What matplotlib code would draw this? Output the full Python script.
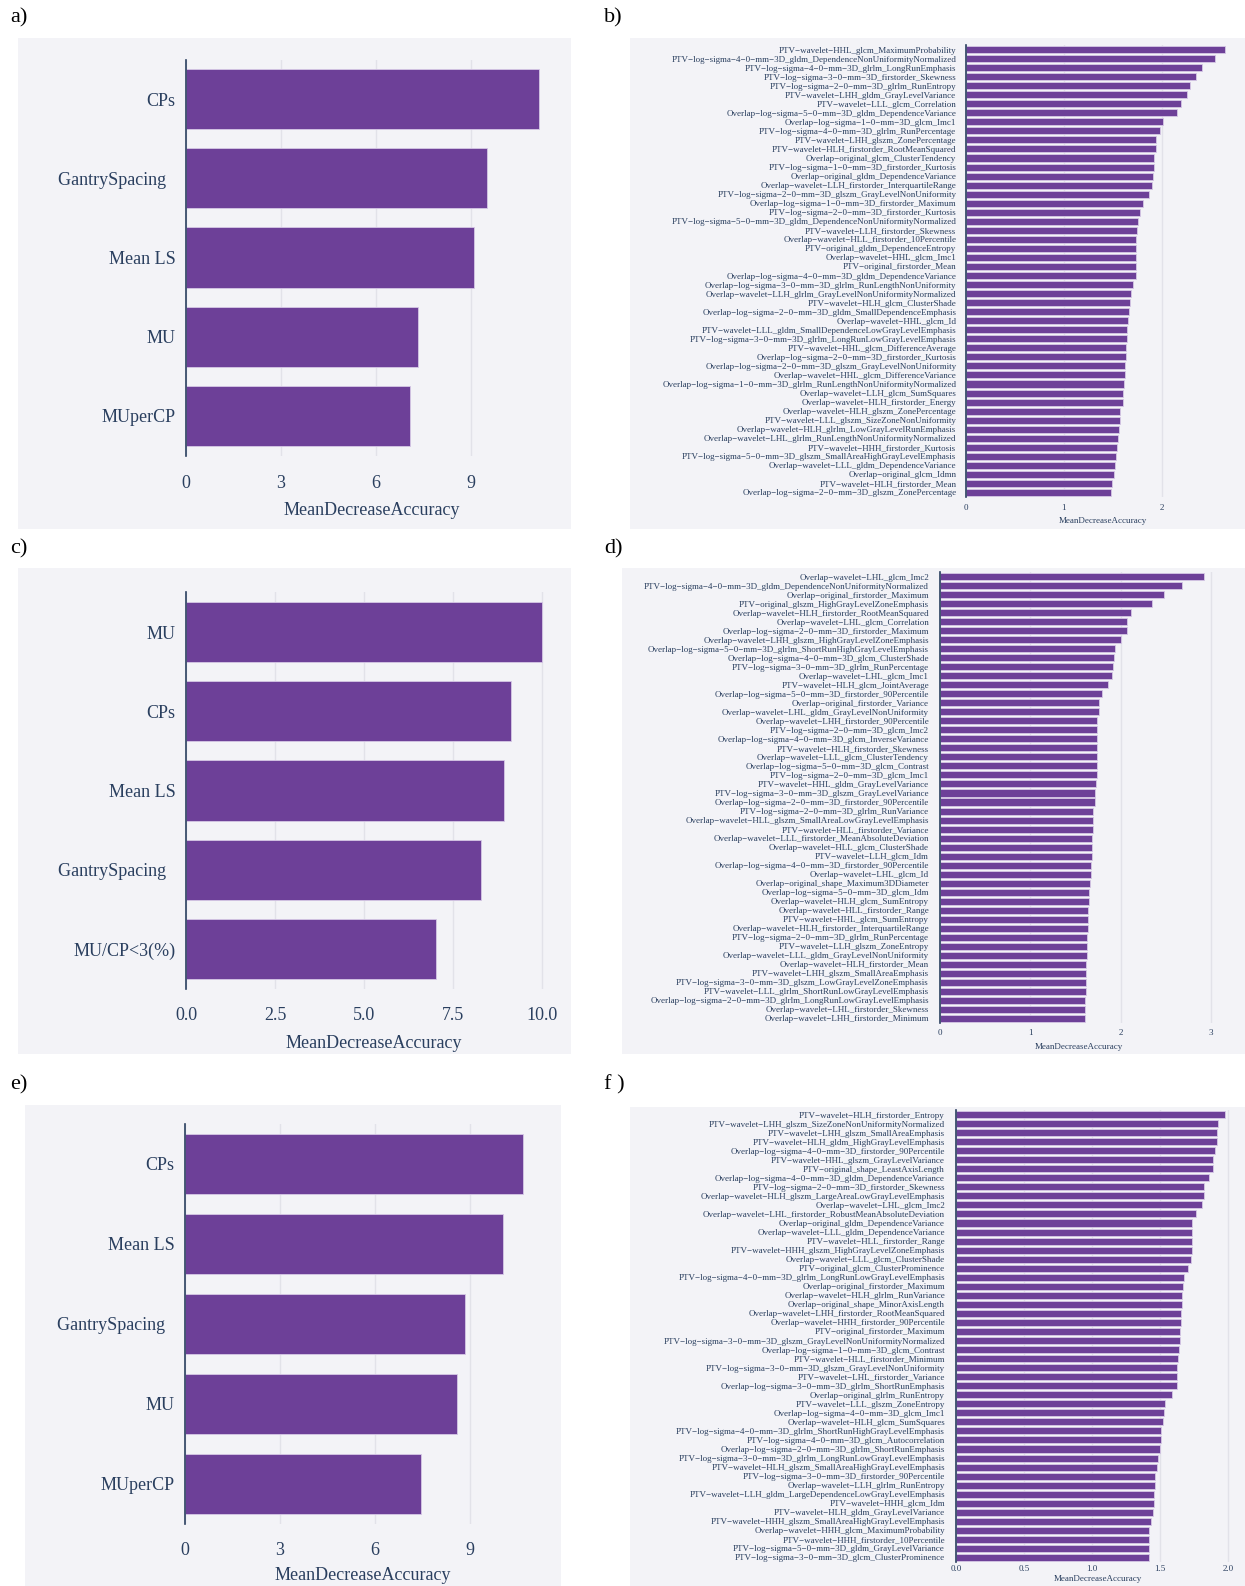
import matplotlib
matplotlib.use('Agg')
import matplotlib.pyplot as plt
from matplotlib.patches import Rectangle

# ---------------- data ----------------
a_labels = ["CPs", "GantrySpacing  ", "Mean LS", "MU", "MUperCP"]
a_values = [11.17, 9.52, 9.11, 7.33, 7.08]

c_labels = ["MU", "CPs", "Mean LS", "GantrySpacing  ", "MU/CP<3(%)"]
c_values = [10.0, 9.12, 8.93, 8.27, 7.02]

e_labels = ["CPs", "Mean LS", "GantrySpacing  ", "MU", "MUperCP"]
e_values = [10.68, 10.04, 8.85, 8.58, 7.46]

b_labels = [
    "PTV−wavelet−HHL_glcm_MaximumProbability",
    "PTV−log−sigma−4−0−mm−3D_gldm_DependenceNonUniformityNormalized",
    "PTV−log−sigma−4−0−mm−3D_glrlm_LongRunEmphasis",
    "PTV−log−sigma−3−0−mm−3D_firstorder_Skewness",
    "PTV−log−sigma−2−0−mm−3D_glrlm_RunEntropy",
    "PTV−wavelet−LHH_gldm_GrayLevelVariance",
    "PTV−wavelet−LLL_glcm_Correlation",
    "Overlap−log−sigma−5−0−mm−3D_gldm_DependenceVariance",
    "Overlap−log−sigma−1−0−mm−3D_glcm_Imc1",
    "PTV−log−sigma−4−0−mm−3D_glrlm_RunPercentage",
    "PTV−wavelet−LHH_glszm_ZonePercentage",
    "PTV−wavelet−HLH_firstorder_RootMeanSquared",
    "Overlap−original_glcm_ClusterTendency",
    "PTV−log−sigma−1−0−mm−3D_firstorder_Kurtosis",
    "Overlap−original_gldm_DependenceVariance",
    "Overlap−wavelet−LLH_firstorder_InterquartileRange",
    "PTV−log−sigma−2−0−mm−3D_glszm_GrayLevelNonUniformity",
    "Overlap−log−sigma−1−0−mm−3D_firstorder_Maximum",
    "PTV−log−sigma−2−0−mm−3D_firstorder_Kurtosis",
    "PTV−log−sigma−5−0−mm−3D_gldm_DependenceNonUniformityNormalized",
    "PTV−wavelet−LLH_firstorder_Skewness",
    "Overlap−wavelet−HLL_firstorder_10Percentile",
    "PTV−original_gldm_DependenceEntropy",
    "Overlap−wavelet−HHL_glcm_Imc1",
    "PTV−original_firstorder_Mean",
    "Overlap−log−sigma−4−0−mm−3D_gldm_DependenceVariance",
    "Overlap−log−sigma−3−0−mm−3D_glrlm_RunLengthNonUniformity",
    "Overlap−wavelet−LLH_glrlm_GrayLevelNonUniformityNormalized",
    "PTV−wavelet−HLH_glcm_ClusterShade",
    "Overlap−log−sigma−2−0−mm−3D_gldm_SmallDependenceEmphasis",
    "Overlap−wavelet−HHL_glcm_Id",
    "PTV−wavelet−LLL_gldm_SmallDependenceLowGrayLevelEmphasis",
    "PTV−log−sigma−3−0−mm−3D_glrlm_LongRunLowGrayLevelEmphasis",
    "PTV−wavelet−HHL_glcm_DifferenceAverage",
    "Overlap−log−sigma−2−0−mm−3D_firstorder_Kurtosis",
    "Overlap−log−sigma−2−0−mm−3D_glszm_GrayLevelNonUniformity",
    "Overlap−wavelet−HHL_glcm_DifferenceVariance",
    "Overlap−log−sigma−1−0−mm−3D_glrlm_RunLengthNonUniformityNormalized",
    "Overlap−wavelet−LLH_glcm_SumSquares",
    "Overlap−wavelet−HLH_firstorder_Energy",
    "Overlap−wavelet−HLH_glszm_ZonePercentage",
    "PTV−wavelet−LLL_glszm_SizeZoneNonUniformity",
    "Overlap−wavelet−HLH_glrlm_LowGrayLevelRunEmphasis",
    "Overlap−wavelet−LHL_glrlm_RunLengthNonUniformityNormalized",
    "PTV−wavelet−HHH_firstorder_Kurtosis",
    "PTV−log−sigma−5−0−mm−3D_glszm_SmallAreaHighGrayLevelEmphasis",
    "Overlap−wavelet−LLL_gldm_DependenceVariance",
    "Overlap−original_glcm_Idmn",
    "PTV−wavelet−HLH_firstorder_Mean",
    "Overlap−log−sigma−2−0−mm−3D_glszm_ZonePercentage",
]
b_values = [2.648, 2.54, 2.41, 2.344, 2.284, 2.252, 2.20, 2.152, 2.008, 1.98,
            1.94, 1.94, 1.924, 1.916, 1.908, 1.896, 1.872, 1.808, 1.772, 1.76,
            1.744, 1.74, 1.74, 1.74, 1.74, 1.736, 1.708, 1.68, 1.672, 1.66,
            1.656, 1.648, 1.644, 1.636, 1.632, 1.628, 1.624, 1.612, 1.608, 1.604,
            1.572, 1.568, 1.564, 1.556, 1.544, 1.532, 1.52, 1.516, 1.492, 1.48]

d_labels = [
    "Overlap−wavelet−LHL_glcm_Imc2",
    "PTV−log−sigma−4−0−mm−3D_gldm_DependenceNonUniformityNormalized",
    "Overlap−original_firstorder_Maximum",
    "PTV−original_glszm_HighGrayLevelZoneEmphasis",
    "Overlap−wavelet−HLH_firstorder_RootMeanSquared",
    "Overlap−wavelet−LHL_glcm_Correlation",
    "Overlap−log−sigma−2−0−mm−3D_firstorder_Maximum",
    "Overlap−wavelet−LHH_glszm_HighGrayLevelZoneEmphasis",
    "Overlap−log−sigma−5−0−mm−3D_glrlm_ShortRunHighGrayLevelEmphasis",
    "Overlap−log−sigma−4−0−mm−3D_glcm_ClusterShade",
    "PTV−log−sigma−3−0−mm−3D_glrlm_RunPercentage",
    "Overlap−wavelet−LHL_glcm_Imc1",
    "PTV−wavelet−HLH_glcm_JointAverage",
    "Overlap−log−sigma−5−0−mm−3D_firstorder_90Percentile",
    "Overlap−original_firstorder_Variance",
    "Overlap−wavelet−LHL_gldm_GrayLevelNonUniformity",
    "Overlap−wavelet−LHH_firstorder_90Percentile",
    "PTV−log−sigma−2−0−mm−3D_glcm_Imc2",
    "Overlap−log−sigma−4−0−mm−3D_glcm_InverseVariance",
    "PTV−wavelet−HLH_firstorder_Skewness",
    "Overlap−wavelet−LLL_glcm_ClusterTendency",
    "Overlap−log−sigma−5−0−mm−3D_glcm_Contrast",
    "PTV−log−sigma−2−0−mm−3D_glcm_Imc1",
    "PTV−wavelet−HHL_gldm_GrayLevelVariance",
    "PTV−log−sigma−3−0−mm−3D_glszm_GrayLevelVariance",
    "Overlap−log−sigma−2−0−mm−3D_firstorder_90Percentile",
    "PTV−log−sigma−2−0−mm−3D_glrlm_RunVariance",
    "Overlap−wavelet−HLL_glszm_SmallAreaLowGrayLevelEmphasis",
    "PTV−wavelet−HLL_firstorder_Variance",
    "Overlap−wavelet−LLL_firstorder_MeanAbsoluteDeviation",
    "Overlap−wavelet−HLL_glcm_ClusterShade",
    "PTV−wavelet−LLH_glcm_Idm",
    "Overlap−log−sigma−4−0−mm−3D_firstorder_90Percentile",
    "Overlap−wavelet−LHL_glcm_Id",
    "Overlap−original_shape_Maximum3DDiameter",
    "Overlap−log−sigma−5−0−mm−3D_glcm_Idm",
    "Overlap−wavelet−HLH_glcm_SumEntropy",
    "Overlap−wavelet−HLL_firstorder_Range",
    "PTV−wavelet−HHL_glcm_SumEntropy",
    "Overlap−wavelet−HLH_firstorder_InterquartileRange",
    "PTV−log−sigma−2−0−mm−3D_glrlm_RunPercentage",
    "PTV−wavelet−LLH_glszm_ZoneEntropy",
    "Overlap−wavelet−LLL_gldm_GrayLevelNonUniformity",
    "Overlap−wavelet−HLH_firstorder_Mean",
    "PTV−wavelet−LHH_glszm_SmallAreaEmphasis",
    "PTV−log−sigma−3−0−mm−3D_glszm_LowGrayLevelZoneEmphasis",
    "PTV−wavelet−LLL_glrlm_ShortRunLowGrayLevelEmphasis",
    "Overlap−log−sigma−2−0−mm−3D_glrlm_LongRunLowGrayLevelEmphasis",
    "Overlap−wavelet−LHL_firstorder_Skewness",
    "Overlap−wavelet−LHH_firstorder_Minimum",
]
d_values = [2.925, 2.681, 2.478, 2.35, 2.11, 2.066, 2.066, 2.0, 1.938, 1.929,
            1.912, 1.907, 1.858, 1.796, 1.761, 1.757, 1.739, 1.739, 1.739, 1.739,
            1.739, 1.735, 1.735, 1.73, 1.721, 1.712, 1.699, 1.69, 1.69, 1.686,
            1.681, 1.681, 1.677, 1.668, 1.659, 1.65, 1.646, 1.642, 1.642, 1.637,
            1.628, 1.624, 1.624, 1.62, 1.615, 1.615, 1.615, 1.606, 1.606, 1.602]

f_labels = [
    "PTV−wavelet−HLH_firstorder_Entropy",
    "PTV−wavelet−LHH_glszm_SizeZoneNonUniformityNormalized",
    "PTV−wavelet−LHH_glszm_SmallAreaEmphasis",
    "PTV−wavelet−HLH_gldm_HighGrayLevelEmphasis",
    "Overlap−log−sigma−4−0−mm−3D_firstorder_90Percentile",
    "PTV−wavelet−HHL_glszm_GrayLevelVariance",
    "PTV−original_shape_LeastAxisLength",
    "Overlap−log−sigma−4−0−mm−3D_gldm_DependenceVariance",
    "PTV−log−sigma−2−0−mm−3D_firstorder_Skewness",
    "Overlap−wavelet−HLH_glszm_LargeAreaLowGrayLevelEmphasis",
    "Overlap−wavelet−LHL_glcm_Imc2",
    "Overlap−wavelet−LHL_firstorder_RobustMeanAbsoluteDeviation",
    "Overlap−original_gldm_DependenceVariance",
    "Overlap−wavelet−LLL_gldm_DependenceVariance",
    "PTV−wavelet−HLL_firstorder_Range",
    "PTV−wavelet−HHH_glszm_HighGrayLevelZoneEmphasis",
    "Overlap−wavelet−LLL_glcm_ClusterShade",
    "PTV−original_glcm_ClusterProminence",
    "PTV−log−sigma−4−0−mm−3D_glrlm_LongRunLowGrayLevelEmphasis",
    "Overlap−original_firstorder_Maximum",
    "Overlap−wavelet−HLH_glrlm_RunVariance",
    "Overlap−original_shape_MinorAxisLength",
    "Overlap−wavelet−LHH_firstorder_RootMeanSquared",
    "Overlap−wavelet−HHH_firstorder_90Percentile",
    "PTV−original_firstorder_Maximum",
    "PTV−log−sigma−3−0−mm−3D_glszm_GrayLevelNonUniformityNormalized",
    "Overlap−log−sigma−1−0−mm−3D_glcm_Contrast",
    "PTV−wavelet−HLL_firstorder_Minimum",
    "PTV−log−sigma−3−0−mm−3D_glszm_GrayLevelNonUniformity",
    "PTV−wavelet−LHL_firstorder_Variance",
    "Overlap−log−sigma−3−0−mm−3D_glrlm_ShortRunEmphasis",
    "Overlap−original_glrlm_RunEntropy",
    "PTV−wavelet−LLL_glszm_ZoneEntropy",
    "Overlap−log−sigma−4−0−mm−3D_glcm_Imc1",
    "Overlap−wavelet−HLH_glcm_SumSquares",
    "PTV−log−sigma−4−0−mm−3D_glrlm_ShortRunHighGrayLevelEmphasis",
    "PTV−log−sigma−4−0−mm−3D_glcm_Autocorrelation",
    "Overlap−log−sigma−2−0−mm−3D_glrlm_ShortRunEmphasis",
    "PTV−log−sigma−3−0−mm−3D_glrlm_LongRunLowGrayLevelEmphasis",
    "PTV−wavelet−HLH_glszm_SmallAreaHighGrayLevelEmphasis",
    "PTV−log−sigma−3−0−mm−3D_firstorder_90Percentile",
    "Overlap−wavelet−LLH_glrlm_RunEntropy",
    "PTV−wavelet−LLH_gldm_LargeDependenceLowGrayLevelEmphasis",
    "PTV−wavelet−HHH_glcm_Idm",
    "PTV−wavelet−HLH_gldm_GrayLevelVariance",
    "PTV−wavelet−HHH_glszm_SmallAreaHighGrayLevelEmphasis",
    "Overlap−wavelet−HHH_glcm_MaximumProbability",
    "PTV−wavelet−HHH_firstorder_10Percentile",
    "PTV−log−sigma−5−0−mm−3D_gldm_GrayLevelVariance",
    "PTV−log−sigma−3−0−mm−3D_glcm_ClusterProminence",
]
f_values = [1.977, 1.929, 1.920, 1.917, 1.906, 1.892, 1.889, 1.858, 1.826, 1.824,
            1.812, 1.767, 1.738, 1.738, 1.735, 1.733, 1.730, 1.704, 1.676, 1.667,
            1.664, 1.661, 1.656, 1.653, 1.647, 1.644, 1.639, 1.633, 1.627, 1.622,
            1.622, 1.587, 1.539, 1.531, 1.522, 1.508, 1.505, 1.502, 1.485, 1.476,
            1.462, 1.462, 1.459, 1.459, 1.445, 1.434, 1.420, 1.420, 1.420, 1.420]

a_ticks, a_ticklabels = [0, 3, 6, 9], ["0", "3", "6", "9"]
c_ticks, c_ticklabels = [0, 2.5, 5, 7.5, 10], ["0.0", "2.5", "5.0", "7.5", "10.0"]
e_ticks, e_ticklabels = [0, 3, 6, 9], ["0", "3", "6", "9"]
b_ticks, b_ticklabels = [0, 1, 2], ["0", "1", "2"]
d_ticks, d_ticklabels = [0, 1, 2, 3], ["0", "1", "2", "3"]
f_ticks, f_ticklabels = [0, 0.5, 1.0, 1.5, 2.0], ["0.0", "0.5", "1.0", "1.5", "2.0"]

# ---------------- style ----------------
W, H = 1245, 1586
BG = '#F3F3F7'
BAR = '#6D4098'
EDGE = '#D6C8E6'
GRID = '#E2E2E9'
TXT = '#2A3F5F'
plt.rcParams['font.family'] = ['Liberation Serif', 'DejaVu Serif']

fig = plt.figure(figsize=(W / 100, H / 100), dpi=100)
fig.patch.set_facecolor('white')


def rect(l, t, r, b):
    return [l / W, 1 - b / H, (r - l) / W, (b - t) / H]


def box(l, t, r, b):
    fig.patches.append(Rectangle((l / W, 1 - b / H), (r - l) / W, (b - t) / H,
                                 transform=fig.transFigure, facecolor=BG,
                                 edgecolor='none', zorder=-5))


def panel(pos, labels, values, ticks, ticklabels, fs, tfs, ypad, xpad, lpad, barh):
    ax = fig.add_axes(rect(*pos))
    ax.set_facecolor('none')
    ypos = list(range(len(labels)))
    ax.barh(ypos, values, height=barh, color=BAR, edgecolor=EDGE,
            linewidth=0.6, zorder=3)
    ax.set_yticks(ypos)
    ax.set_yticklabels(labels)
    ax.set_ylim(len(labels) - 0.5, -0.5)
    ax.set_xlim(0, max(values) * 1.0526)
    ax.set_xticks(ticks)
    ax.set_xticklabels(ticklabels)
    ax.grid(axis='x', color=GRID, linewidth=1.0, zorder=0)
    ax.set_axisbelow(True)
    for s in ['top', 'right', 'bottom']:
        ax.spines[s].set_visible(False)
    ax.spines['left'].set_color(TXT)
    ax.spines['left'].set_linewidth(1.2)
    ax.spines['left'].set_zorder(4)
    ax.tick_params(axis='y', length=0, labelsize=fs, colors=TXT, pad=ypad)
    ax.tick_params(axis='x', length=0, labelsize=fs, colors=TXT, pad=xpad)
    ax.set_xlabel('MeanDecreaseAccuracy', fontsize=tfs, color=TXT, labelpad=lpad)
    return ax


# background boxes
box(18, 38, 571, 529)
box(630, 38, 1245, 529)
box(18, 568, 571, 1054)
box(622, 568, 1245, 1054)
box(25, 1105, 561, 1586)
box(630, 1107, 1245, 1586)

BIG, SMALL = 13, 6.5
panel((186, 59.5, 558, 455.6), a_labels, a_values, a_ticks, a_ticklabels, BIG, BIG, 7.5, 14, 7, 0.76)
panel((186, 592.5, 561, 988.6), c_labels, c_values, c_ticks, c_ticklabels, BIG, BIG, 7.5, 13, 8, 0.76)
panel((185, 1124, 541, 1524), e_labels, e_values, e_ticks, e_ticklabels, BIG, BIG, 7.5, 13, 6, 0.76)
panel((966, 45, 1239, 497), b_labels, b_values, b_ticks, b_ticklabels, SMALL, SMALL, 7, 5, 3.5, 0.78)
panel((940, 572, 1218, 1023), d_labels, d_values, d_ticks, d_ticklabels, SMALL, SMALL, 8, 4.5, 4, 0.78)
panel((956, 1110, 1239, 1562), f_labels, f_values, f_ticks, f_ticklabels, SMALL, SMALL, 8, 2.5, 1, 0.78)

# panel letters
for txt, x, y in [("a)", 10, 18), ("b)", 604, 18), ("c)", 10, 549),
                  ("d)", 604, 549), ("e)", 10, 1085), ("f )", 604, 1085)]:
    fig.text(x / W, 1 - y / H, txt, fontsize=16, color='black', ha='left', va='center')

fig.savefig('out.png', dpi=100, facecolor='white')
